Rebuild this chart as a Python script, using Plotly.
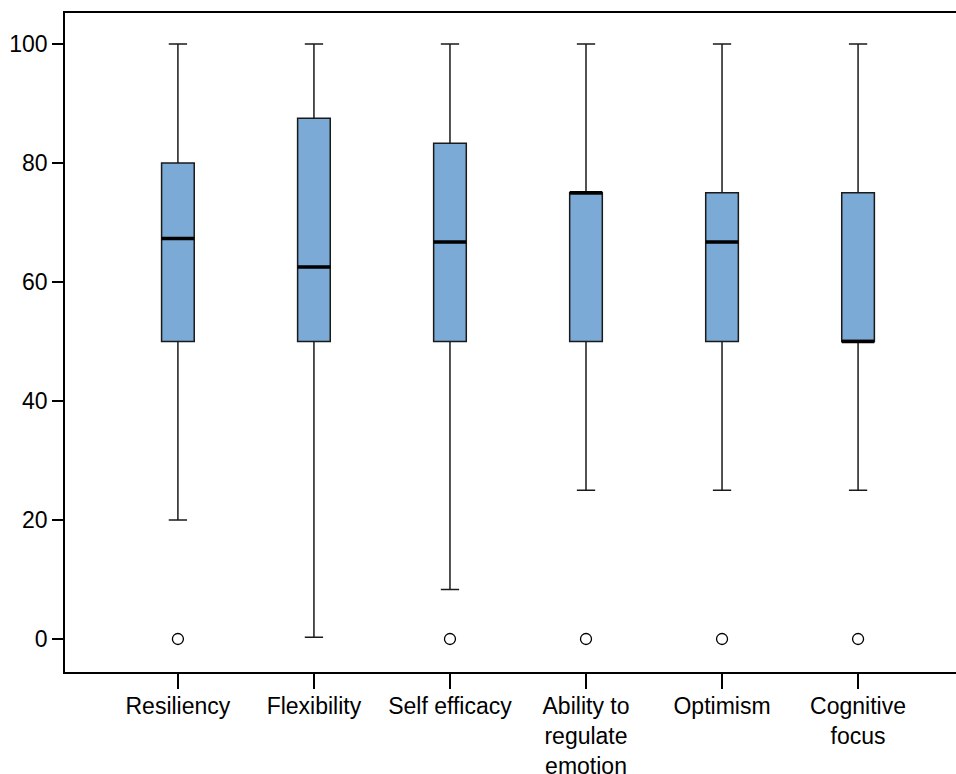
import plotly.graph_objects as go

categories = ["Resiliency", "Flexibility", "Self efficacy",
              "Ability to<br>regulate<br>emotion", "Optimism", "Cognitive<br>focus"]
q1 = [50, 50, 50, 50, 50, 50]
median = [67.3, 62.5, 66.7, 75, 66.7, 50]
q3 = [80, 87.5, 83.3, 75, 75, 75]
lower_whisker = [20, 0.3, 8.3, 25, 25, 25]
upper_whisker = [100, 100, 100, 100, 100, 100]
outlier_cat = [0, 2, 3, 4, 5]
outlier_val = [0, 0, 0, 0, 0]
y_ticks = [0, 20, 40, 60, 80, 100]

BOX_W = 0.24
FILL = "#7aaad5"
EDGE = "#1a1a1a"

fig = go.Figure()
xs = list(range(len(categories)))
fig.add_trace(go.Box(
    x=xs, q1=q1, median=median, q3=q3,
    lowerfence=lower_whisker, upperfence=upper_whisker,
    width=BOX_W, whiskerwidth=0.56,
    fillcolor=FILL, line=dict(color=EDGE, width=1.5),
    boxpoints=False, showlegend=False, hoverinfo="skip",
))

mx, my = [], []
for i, m in enumerate(median):
    mx += [i - BOX_W / 2, i + BOX_W / 2, None]
    my += [m, m, None]
fig.add_trace(go.Scatter(x=mx, y=my, mode="lines",
                         line=dict(color="black", width=3.5),
                         showlegend=False, hoverinfo="skip"))

fig.add_trace(go.Scatter(x=outlier_cat, y=outlier_val, mode="markers",
                         marker=dict(symbol="circle", size=11, color="white",
                                     line=dict(color="black", width=1.3)),
                         showlegend=False, hoverinfo="skip"))

font = "Liberation Sans, Arial, sans-serif"
fig.update_layout(
    width=956, height=774,
    margin=dict(l=65, r=0, t=13, b=102),
    plot_bgcolor="white", paper_bgcolor="white",
    font=dict(family=font, size=24, color="black"),
    xaxis=dict(range=[-0.83, 5.72], tickvals=xs, ticktext=categories,
               showline=True, mirror=True, linecolor="black", linewidth=1.7,
               ticks="outside", ticklen=15, tickwidth=2, tickcolor="black",
               showgrid=False, zeroline=False, tickfont=dict(size=23),
               automargin=False, ticklabelstandoff=-2),
    yaxis=dict(range=[-5.55, 105.2], tickvals=y_ticks,
               showline=True, linecolor="black", linewidth=1.7,
               ticks="outside", ticklen=11, tickwidth=2, tickcolor="black",
               showgrid=False, zeroline=False, tickfont=dict(size=23),
               automargin=False),
)
fig.write_html("out.html", config={"displayModeBar": False},
               post_script="document.body.style.margin='0';document.body.style.overflow='hidden';")
